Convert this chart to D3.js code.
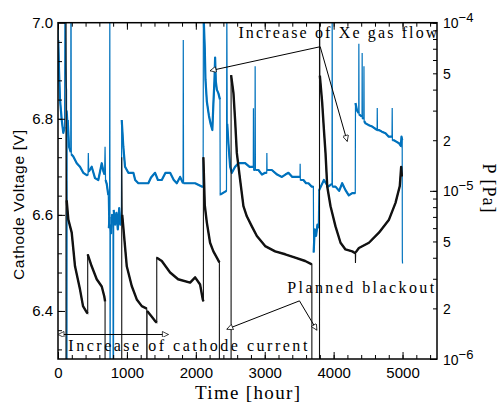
<!DOCTYPE html>
<html lang="en">
<head>
<meta charset="UTF-8">
<title>Cathode voltage and pressure</title>
<style>
  body { margin: 0; background: #fff; }
  svg { display: block; }
  .tick text { font-family: "Liberation Sans", Arial, sans-serif; font-size: 15px; fill: #000; }
  .serif { font-family: "Liberation Serif", "Times New Roman", serif; fill: #000; }
  .sans { font-family: "Liberation Sans", Arial, sans-serif; fill: #000; }
</style>
</head>
<body>
<script src="https://d3js.org/d3.v7.min.js"></script>
<script>
// ---- data (time in hours, voltage in V, pressure in Pa) ----
const timeTicks = [0, 1000, 2000, 3000, 4000, 5000];
const voltTicks = [6.4, 6.6, 6.8, 7.0];
const pressLabels = [
  { p: 1e-4, base: '10', exp: '\u22124' },
  { p: 5e-5, base: '5' },
  { p: 2e-5, base: '2' },
  { p: 1e-5, base: '10', exp: '\u22125' },
  { p: 5e-6, base: '5' },
  { p: 2e-6, base: '2' },
  { p: 1e-6, base: '10', exp: '\u22126' }
];

// cathode voltage; values off the axis mark blackouts
const voltage = [
  [116,6.2],[116,7.1],[120,6.72],[126,6.63],[150,6.59],[199,6.563],[247,6.493],[319,6.445],
  [363,6.41],[417,6.397],[431,6.395],[431,6.518],[489,6.493],[562,6.466],[635,6.451],[672,6.43],
  [683,6.42],[683,6.2],
  [925,6.2],[925,6.72],[932,6.6],[998,6.493],[1070,6.452],[1143,6.424],[1216,6.41],[1288,6.405],
  [1288,6.2],[1292,6.2],[1292,6.40],[1311,6.397],[1350,6.39],[1409,6.379],[1433,6.376],[1433,6.511],
  [1506,6.504],[1627,6.48],[1743,6.466],[1917,6.459],[1990,6.47],[2062,6.455],[2101,6.424],
  [2110,6.42],[2110,6.72],[2130,6.62],[2159,6.585],[2207,6.542],[2255,6.524],[2305,6.511],
  [2342,6.501],[2342,6.2],
  [2512,6.2],[2512,6.891],[2546,6.854],[2570,6.798],[2595,6.729],[2643,6.673],[2691,6.618],
  [2740,6.597],[2813,6.576],[2886,6.556],[3006,6.535],[3151,6.524],[3297,6.518],[3442,6.511],
  [3587,6.504],[3684,6.497],[3684,6.2],
  [3795,6.2],[3795,7.1],[3800,6.89],[3834,6.833],[3859,6.777],[3882,6.729],[3907,6.659],
  [3955,6.618],[4027,6.576],[4100,6.542],[4172,6.528],[4270,6.524],[4315,6.52],[4317,6.50],
  [4320,6.522],[4367,6.531],[4512,6.542],[4657,6.563],[4803,6.59],[4898,6.625],[4960,6.66],
  [4980,6.70],[4990,6.68]
];

// chamber pressure
const pressure = [
  [0,1.2e-4],[4,7.9e-5],[15,5.2e-5],[29,3.5e-5],[54,2.64e-5],[77,2.21e-5],[95,2.4e-5],
  [100,1.2e-4],[104,1.2e-4],[112,5.5e-5],[120,4.2e-5],[124,4.0e-5],[126,5e-7],[130,5e-7],
  [133,3.0e-5],[141,2.64e-5],[160,1.83e-5],[185,1.7e-5],[187,1.2e-4],[190,1.2e-4],[193,1.65e-5],
  [222,1.6e-5],[272,1.46e-5],[319,1.39e-5],[367,1.28e-5],[417,1.24e-5],[436,1.25e-5],[440,1.68e-5],
  [446,1.3e-5],[489,1.39e-5],[537,1.19e-5],[585,1.16e-5],[635,1.46e-5],[660,1.3e-5],[676,1.25e-5],
  [683,1.83e-5],[690,1.16e-5],[707,1.1e-5],[730,9.45e-6],[738,6.0e-6],[748,7.0e-6],[752,1.2e-4],
  [756,5e-7],[760,6.3e-6],[772,5.6e-6],[785,7.2e-6],[798,6.5e-6],[800,5e-7],[805,5e-7],
  [808,7.7e-6],[828,6.3e-6],[848,7.4e-6],[868,5.9e-6],[888,7.9e-6],[906,6.3e-6],[920,7.0e-6],
  [925,2.64e-5],[948,1.83e-5],[973,1.39e-5],[1021,1.28e-5],[1094,1.28e-5],[1120,1.16e-5],
  [1166,1.11e-5],[1311,1.11e-5],[1350,1.2e-5],[1409,1.28e-5],[1450,1.16e-5],[1506,1.16e-5],
  [1560,1.28e-5],[1627,1.28e-5],[1680,1.16e-5],[1724,1.11e-5],[1772,1.21e-5],[1815,1.11e-5],
  [1818,7.9e-5],[1822,1.11e-5],[1892,1.11e-5],[1990,1.11e-5],[2087,1.06e-5],[2106,1.06e-5],
  [2110,1.2e-4],[2130,7.0e-5],[2140,4.6e-5],[2160,3.4e-5],[2190,2.8e-5],[2215,2.5e-5],[2240,2.3e-5],
  [2255,3.3e-5],[2270,4.5e-5],[2280,6.2e-5],[2290,4.5e-5],[2305,4.0e-5],[2328,3.8e-5],[2350,3.5e-5],
  [2354,9.5e-6],[2445,1.0e-5],[2450,1.2e-4],[2456,2.5e-5],[2473,1.92e-5],[2498,1.39e-5],
  [2523,1.28e-5],[2570,1.39e-5],[2618,1.46e-5],[2716,1.46e-5],[2780,1.39e-5],[2813,1.39e-5],
  [2834,1.39e-5],[2836,3.1e-5],[2840,1.33e-5],[2858,1.33e-5],[2861,5.5e-5],[2865,1.33e-5],
  [2909,1.33e-5],[2960,1.25e-5],[3006,1.28e-5],[3029,1.28e-5],[3031,1.68e-5],[3034,1.33e-5],
  [3103,1.33e-5],[3180,1.25e-5],[3249,1.21e-5],[3300,1.25e-5],[3344,1.28e-5],[3400,1.21e-5],
  [3442,1.21e-5],[3512,1.21e-5],[3514,1.45e-5],[3517,1.16e-5],[3562,1.16e-5],[3600,1.11e-5],
  [3635,1.11e-5],[3680,1.06e-5],[3706,1.06e-5],[3710,4.3e-6],[3725,5.9e-6],[3745,5.4e-6],
  [3765,6.3e-6],[3778,6.0e-6],[3785,1.0e-5],[3859,1.16e-5],[3920,1.06e-5],[3976,1.1e-5],
  [3979,1.2e-4],[3982,1.06e-5],[4027,1.06e-5],[4080,1.0e-5],[4124,1.11e-5],[4172,1.01e-5],
  [4220,9.4e-6],[4270,9.7e-6],[4314,9.7e-6],[4317,3.33e-5],[4340,3.0e-5],[4364,2.9e-5],
  [4366,7.5e-5],[4369,2.85e-5],[4412,2.76e-5],[4414,6.6e-5],[4417,2.7e-5],[4437,2.7e-5],
  [4440,5.5e-5],[4443,2.6e-5],[4463,2.52e-5],[4520,2.45e-5],[4560,2.41e-5],[4631,2.3e-5],
  [4633,3.11e-5],[4636,2.3e-5],[4657,2.3e-5],[4700,2.25e-5],[4753,2.2e-5],[4800,2.1e-5],
  [4847,2.1e-5],[4850,3.11e-5],[4853,2.0e-5],[4875,2.0e-5],[4920,1.95e-5],[4948,1.92e-5],
  [4975,1.85e-5],[4985,2.1e-5],[4995,2.0e-5],[4997,3.9e-6],[5000,3.7e-6]
];

// annotations, anchored in (time, voltage)
const xeText = { t: 2618, v: 6.968, text: 'Increase of Xe gas flow', len: 199 };
const xeArrow = [[2207, 6.900], [3805, 6.950], [4197, 6.753]];
const blackoutText = { t: 3326, v: 6.437, text: 'Planned blackout', len: 147 };
const blackoutArrow = [[2450, 6.362], [3504, 6.421], [3757, 6.360]];
const currentText = { t: 150, v: 6.316, text: 'Increase of cathode current', len: 239 };
const currentArrow = [[0, 6.351], [1602, 6.351]];

// ---- layout ----
const width = 500, height = 403;
const mLeft = 58, mRight = 437, mTop = 22.7, mBottom = 359;

const svg = d3.select('body').append('svg')
  .attr('width', width)
  .attr('height', height);

const x = d3.scaleLinear().domain([0, 5500]).range([mLeft, mRight]);
const yV = d3.scaleLinear().domain([6.3, 7.0]).range([mBottom, mTop]);
const yP = d3.scaleLog().domain([1e-6, 1e-4]).range([mBottom, mTop]);

const defs = svg.append('defs');
defs.append('clipPath').attr('id', 'plot')
  .append('rect')
  .attr('x', mLeft).attr('y', mTop)
  .attr('width', mRight - mLeft).attr('height', mBottom - mTop);

// open triangle arrow head
defs.append('marker')
  .attr('id', 'head')
  .attr('viewBox', '0 0 10 10')
  .attr('refX', 10).attr('refY', 5)
  .attr('markerWidth', 8).attr('markerHeight', 6)
  .attr('markerUnits', 'userSpaceOnUse')
  .attr('orient', 'auto-start-reverse')
  .append('path')
  .attr('d', 'M0,0 L10,5 L0,10 Z')
  .attr('fill', '#fff')
  .attr('stroke', '#000')
  .attr('stroke-width', 1.2);

const plot = svg.append('g').attr('clip-path', 'url(#plot)');

// thin path for everything, thick path for the slow parts (jumps stay thin)
function drawSeries(pts, ys, color, wide, thin) {
  const px = pts.map(d => [x(d[0]), ys(d[1])]);
  plot.append('path')
    .attr('d', d3.line()(px))
    .attr('fill', 'none')
    .attr('stroke', color)
    .attr('stroke-width', thin);
  const runs = [];
  let cur = [px[0]];
  for (let i = 1; i < px.length; i++) {
    if (Math.abs(px[i][0] - px[i - 1][0]) < 0.6) {
      if (cur.length > 1) runs.push(cur);
      cur = [px[i]];
    } else {
      cur.push(px[i]);
    }
  }
  if (cur.length > 1) runs.push(cur);
  runs.forEach(r => {
    plot.append('path')
      .attr('d', d3.line()(r))
      .attr('fill', 'none')
      .attr('stroke', color)
      .attr('stroke-width', wide)
      .attr('stroke-linejoin', 'round');
  });
}

drawSeries(pressure, yP, '#0072bd', 2.2, 1.2);
drawSeries(voltage, yV, '#111', 2.4, 1.1);

// ---- axes, ticks pointing inward ----
const noDomain = g => g.select('.domain').remove();

const minorTime = d3.range(0, 5501, 200);
svg.append('g').attr('transform', `translate(0,${mBottom})`)
  .call(d3.axisBottom(x).tickValues(timeTicks).tickSize(-7).tickPadding(8).tickFormat(d3.format('d')))
  .call(noDomain);
svg.append('g').attr('transform', `translate(0,${mBottom})`)
  .call(d3.axisBottom(x).tickValues(minorTime).tickSize(-4).tickFormat(''))
  .call(noDomain);
svg.append('g').attr('transform', `translate(0,${mTop})`)
  .call(d3.axisTop(x).tickValues(timeTicks).tickSize(-7).tickFormat(''))
  .call(noDomain);
svg.append('g').attr('transform', `translate(0,${mTop})`)
  .call(d3.axisTop(x).tickValues(minorTime).tickSize(-4).tickFormat(''))
  .call(noDomain);

const minorVolt = d3.range(6.32, 7.0, 0.04);
svg.append('g').attr('transform', `translate(${mLeft},0)`)
  .call(d3.axisLeft(yV).tickValues(voltTicks).tickSize(-7).tickPadding(5).tickFormat(d3.format('.1f')))
  .call(noDomain);
svg.append('g').attr('transform', `translate(${mLeft},0)`)
  .call(d3.axisLeft(yV).tickValues(minorVolt).tickSize(-4).tickFormat(''))
  .call(noDomain);

svg.append('g').attr('transform', `translate(${mRight},0)`)
  .call(d3.axisRight(yP).tickValues([1e-6, 1e-5, 1e-4]).tickSize(-7).tickFormat(''))
  .call(noDomain);
svg.append('g').attr('transform', `translate(${mRight},0)`)
  .call(d3.axisRight(yP).tickValues(yP.ticks()).tickSize(-4).tickFormat(''))
  .call(noDomain);

svg.selectAll('.tick line').attr('stroke', '#000');

// right axis labels with exponents
const pl = svg.append('g');
pressLabels.forEach(d => {
  const t = pl.append('text')
    .attr('class', 'sans')
    .attr('x', mRight + 6)
    .attr('y', yP(d.p) + 5.5)
    .style('font-size', '14px')
    .text(d.base);
  if (d.exp) {
    t.append('tspan')
      .attr('dy', -6)
      .style('font-size', '13px')
      .text(d.exp);
  }
});

// frame
svg.append('rect')
  .attr('x', mLeft).attr('y', mTop)
  .attr('width', mRight - mLeft).attr('height', mBottom - mTop)
  .attr('fill', 'none')
  .attr('stroke', '#000')
  .attr('stroke-width', 1.5);

// axis titles
svg.append('text')
  .attr('class', 'serif')
  .attr('x', 247.5).attr('y', 399)
  .attr('text-anchor', 'middle')
  .attr('textLength', 105)
  .style('font-size', '19px')
  .text('Time [hour]');

svg.append('text')
  .attr('class', 'sans')
  .attr('transform', 'translate(24,205) rotate(-90)')
  .attr('text-anchor', 'middle')
  .attr('textLength', 150)
  .style('font-size', '15.5px')
  .text('Cathode Voltage [V]');

svg.append('text')
  .attr('class', 'serif')
  .attr('transform', 'translate(483,188) rotate(90)')
  .attr('text-anchor', 'middle')
  .attr('textLength', 49)
  .style('font-size', '18px')
  .text('P [Pa]');

// annotations
function note(n) {
  svg.append('text')
    .attr('class', 'serif')
    .attr('x', x(n.t)).attr('y', yV(n.v))
    .attr('textLength', n.len)
    .style('font-size', '16px')
    .text(n.text);
}
function arrow(pts) {
  svg.append('path')
    .attr('d', d3.line()(pts.map(d => [x(d[0]), yV(d[1])])))
    .attr('fill', 'none')
    .attr('stroke', '#000')
    .attr('stroke-width', 1)
    .attr('marker-start', 'url(#head)')
    .attr('marker-end', 'url(#head)');
}
note(xeText);
arrow(xeArrow);
note(blackoutText);
arrow(blackoutArrow);
note(currentText);
arrow(currentArrow);
</script>
</body>
</html>
